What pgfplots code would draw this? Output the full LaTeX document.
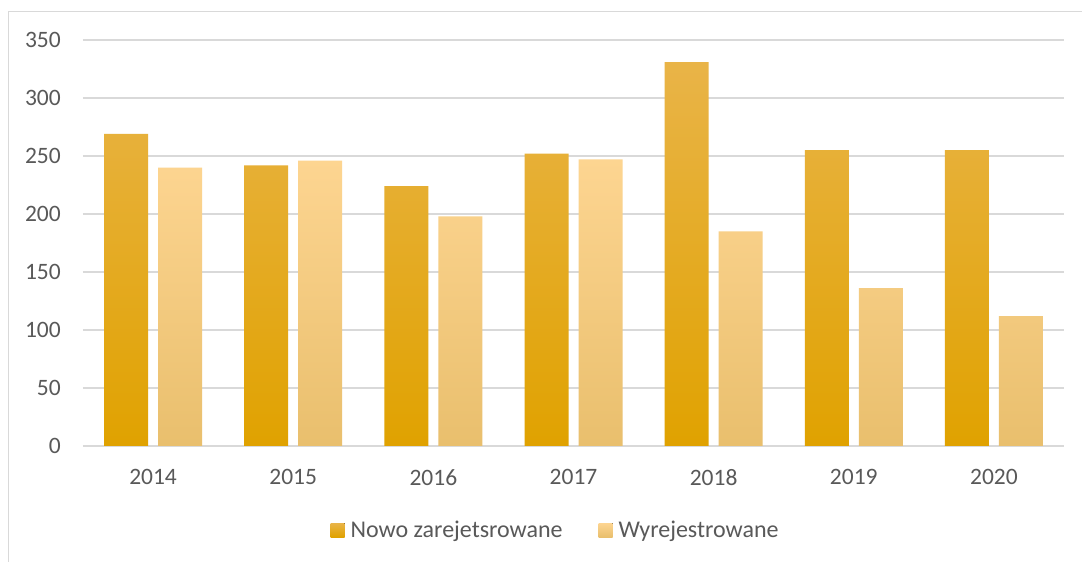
\documentclass[border=0pt]{standalone}
\usepackage{pgfplots}
\pgfplotsset{compat=1.18}
\usepackage{fontspec}
\setmainfont{Carlito}
\definecolor{gridc}{HTML}{D9D9D9}
\definecolor{txt}{HTML}{595959}
\definecolor{darkT}{HTML}{E9B448}
\definecolor{darkM}{HTML}{EDAF0C}
\definecolor{darkB}{HTML}{E0A200}
\definecolor{lightT}{HTML}{FDD591}
\definecolor{lightM}{HTML}{FCD288}
\definecolor{lightB}{HTML}{E9BF6D}
\begin{document}
\begin{tikzpicture}[x=1pt,y=1pt]
\useasboundingbox (0,0) rectangle (1082,562);
\fill[white] (0,0) rectangle (1082,562);
\draw[gridc, line width=1.2pt] (8.5,0) -- (8.5,550.5) -- (1082,550.5);
\begin{axis}[
  at={(83pt,116pt)}, anchor=south west,
  scale only axis, width=981pt, height=406pt,
  xmin=-0.5, xmax=6.5, ymin=0, ymax=350,
  ybar=10pt, bar width=44pt,
  xtick=data,
  xticklabels={2014,2015,2016,2017,2018,2019,2020},
  ytick={0,50,...,350},
  ymajorgrids, grid style={gridc, line width=1.2pt},
  axis line style={draw=none},
  tick style={draw=none},
  /pgf/number format/assume math mode=true,
  yticklabel style={font=\fontsize{23.5}{28}\selectfont, text=txt, anchor=east, inner sep=0pt, xshift=-22pt},
  xticklabel style={font=\fontsize{23.5}{28}\selectfont, text=txt, anchor=center, inner sep=0pt, yshift=-27pt},
  legend style={at={(0.4817,-0.207)}, anchor=center, legend columns=2, draw=none, fill=none,
    font=\fontsize{24}{28}\selectfont, text=txt,
    /tikz/every odd column/.append style={column sep=4pt},
    /tikz/every even column/.append style={column sep=34pt}},
  legend cell align=left,
  legend image code/.code={\fill[#1] (0pt,-7pt) rectangle (14pt,7pt);},
]
\addplot[draw=none, shading=axis, top color=darkT, middle color=darkM, bottom color=darkB]
  coordinates {(0,269) (1,242) (2,224) (3,252) (4,331) (5,255) (6,255)};
\addplot[draw=none, shading=axis, top color=lightT, middle color=lightM, bottom color=lightB]
  coordinates {(0,240) (1,246) (2,198) (3,247) (4,185) (5,136) (6,112)};
\legend{Nowo zarejetsrowane, Wyrejestrowane}
\end{axis}
\end{tikzpicture}
\end{document}
